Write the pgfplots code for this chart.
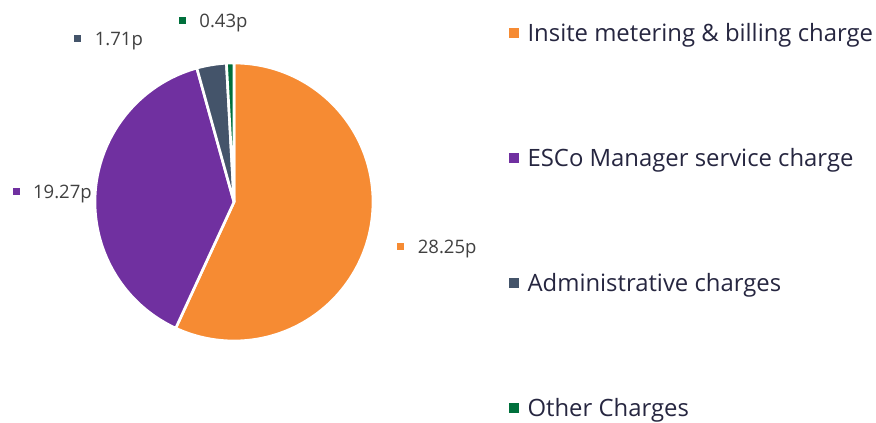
\documentclass[border=0pt]{standalone}
\usepackage{pgfplots}
\pgfplotsset{compat=1.18}
\usepackage{pgfplotstable}
\usepackage{fontspec}
\setmainfont{Open Sans}
\definecolor{cOrange}{HTML}{F68B33}
\definecolor{cPurple}{HTML}{7030A0}
\definecolor{cSlate}{HTML}{44546A}
\definecolor{cGreen}{HTML}{00703C}
\definecolor{labelgray}{HTML}{404040}
\definecolor{navy}{HTML}{262640}

\pgfplotstableread{
value
28.25
19.27
1.71
0.43
}\piedata

\begin{document}
\begin{tikzpicture}[x=0.75pt,y=-0.75pt]
\useasboundingbox (0,0) rectangle (876,422);
\pgfplotstablegetelem{0}{value}\of\piedata \let\vA\pgfplotsretval
\pgfplotstablegetelem{1}{value}\of\piedata \let\vB\pgfplotsretval
\pgfplotstablegetelem{2}{value}\of\piedata \let\vC\pgfplotsretval
\pgfplotstablegetelem{3}{value}\of\piedata \let\vD\pgfplotsretval
\pgfmathsetmacro\tot{\vA+\vB+\vC+\vD}
\pgfmathsetmacro\aA{90-360*\vA/\tot}
\pgfmathsetmacro\aB{\aA-360*\vB/\tot}
\pgfmathsetmacro\aC{\aB-360*\vC/\tot}
\pgfmathsetmacro\aD{\aC-360*\vD/\tot}
\begin{axis}[at={(175.5pt,-151.5pt)}, anchor=center, width=208.5pt, height=208.5pt,
  scale only axis, hide axis, clip=false, xmin=-1, xmax=1, ymin=-1, ymax=1]
\addplot[draw=none] coordinates {(0,0)};
\fill[cOrange, draw=white, line width=2pt, line join=round] (axis cs:0,0) -- ++(90:104.25pt) arc[start angle=90, end angle=\aA, radius=104.25pt] -- cycle;
\fill[cPurple, draw=white, line width=2pt, line join=round] (axis cs:0,0) -- ++(\aA:104.25pt) arc[start angle=\aA, end angle=\aB, radius=104.25pt] -- cycle;
\fill[cSlate, draw=white, line width=2pt, line join=round] (axis cs:0,0) -- ++(\aB:104.25pt) arc[start angle=\aB, end angle=\aC, radius=104.25pt] -- cycle;
\fill[cGreen, draw=white, line width=2pt, line join=round] (axis cs:0,0) -- ++(\aC:104.25pt) arc[start angle=\aC, end angle=\aD, radius=104.25pt] -- cycle;
\end{axis}
% data labels
\tikzset{lbl/.style={anchor=base west, inner sep=0pt, text=labelgray, font=\fontsize{13.9pt}{16pt}\selectfont}}
\node[lbl] at (178.8,27.7) {\textcolor{cGreen}{\rule[2.6pt]{5.25pt}{5.25pt}}\hspace{10pt}0.43p};
\node[lbl] at (74.2,45.7) {\textcolor{cSlate}{\rule[2.6pt]{5.25pt}{5.25pt}}\hspace{10pt}1.71p};
\node[lbl] at (12.5,198.3) {\textcolor{cPurple}{\rule[2.6pt]{5.25pt}{5.25pt}}\hspace{10pt}19.27p};
\node[lbl] at (397.2,253.3) {\textcolor{cOrange}{\rule[2.6pt]{5.25pt}{5.25pt}}\hspace{10pt}28.25p};
% legend
\tikzset{leg/.style={anchor=base west, inner sep=0pt, text=navy, font=\fontsize{17.9pt}{20pt}\selectfont}}
\node[leg] at (508.3,41) {\textcolor{cOrange}{\rule[2pt]{7.5pt}{7.5pt}}\hspace{6.75pt}Insite metering \& billing charge};
\node[leg] at (508.3,166) {\textcolor{cPurple}{\rule[2pt]{7.5pt}{7.5pt}}\hspace{6.75pt}ESCo Manager service charge};
\node[leg] at (508.3,291) {\textcolor{cSlate}{\rule[2pt]{7.5pt}{7.5pt}}\hspace{6.75pt}Administrative charges};
\node[leg] at (508.3,416) {\textcolor{cGreen}{\rule[2pt]{7.5pt}{7.5pt}}\hspace{6.75pt}Other Charges};
\end{tikzpicture}
\end{document}
